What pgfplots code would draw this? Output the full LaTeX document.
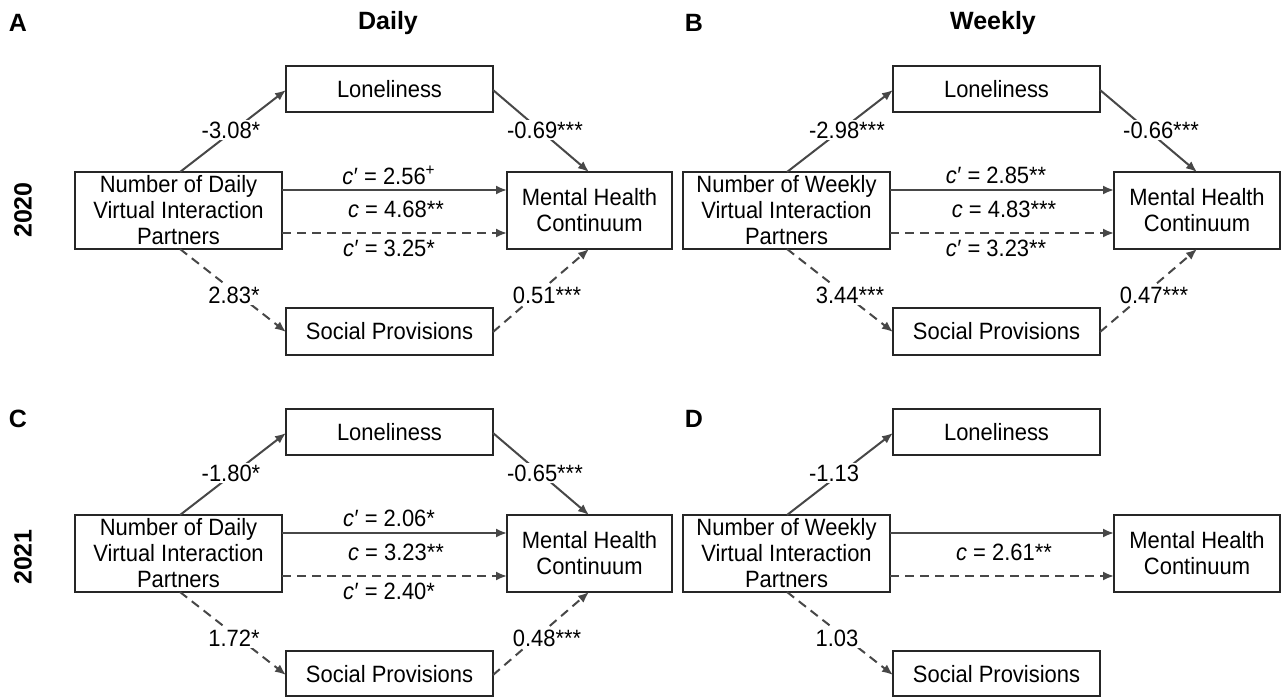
\documentclass[border=0pt]{standalone}
\usepackage{pgfplots}
\pgfplotsset{compat=1.18}
\usetikzlibrary{arrows.meta}
\usepackage{fontspec}
\setmainfont{Liberation Sans}
\newcommand{\cp}{\textit{c}\kern0.3pt′}
\begin{document}
\begin{tikzpicture}[
  box/.style={draw=black!85, line width=1pt, fill=white, mark=none, line join=miter},
  arr/.style={draw=black!72, line width=1pt, mark=none, -{Latex[length=5.5pt,width=4.5pt]}},
  dsh/.style={dash pattern=on 4.5pt off 3pt},
  lab/.style={fill=white, inner sep=0.8pt, xscale=0.93, font=\fontsize{11.8}{13}\selectfont},
  txt/.style={align=center, inner sep=0pt, xscale=0.93, font=\fontsize{11.8}{13}\selectfont},
  ttl/.style={inner sep=0pt, font=\bfseries\fontsize{12.5}{15}\selectfont},
]
\begin{axis}[
  scale only axis, width=644pt, height=348.5pt,
  xmin=0, xmax=1288, ymin=0, ymax=697,
  hide axis, clip=false,
]
% frame for bounding box
\addplot[draw=none, mark=none] coordinates {(0,0) (1288,697)};

% ---------- Panel A ----------
\addplot[box] coordinates {(286,585) (493,585) (493,631) (286,631)} -- cycle;
\addplot[box] coordinates {(75,448) (282,448) (282,525) (75,525)} -- cycle;
\addplot[box] coordinates {(507,448) (672,448) (672,525) (507,525)} -- cycle;
\addplot[box] coordinates {(286,342) (493,342) (493,389) (286,389)} -- cycle;
\addplot[arr] coordinates {(180,525) (286,607)};
\addplot[arr] coordinates {(493,607) (589,525)};
\addplot[arr] coordinates {(282,507) (507,507)};
\addplot[arr,dsh] coordinates {(282,464) (507,464)};
\addplot[arr,dsh] coordinates {(180,448) (286,365)};
\addplot[arr,dsh] coordinates {(493,365) (589,448)};

% ---------- Panel B ----------
\addplot[box] coordinates {(893,585) (1100,585) (1100,631) (893,631)} -- cycle;
\addplot[box] coordinates {(683,448) (890,448) (890,525) (683,525)} -- cycle;
\addplot[box] coordinates {(1114,448) (1280,448) (1280,525) (1114,525)} -- cycle;
\addplot[box] coordinates {(893,342) (1100,342) (1100,389) (893,389)} -- cycle;
\addplot[arr] coordinates {(787,525) (893,607)};
\addplot[arr] coordinates {(1100,607) (1197,525)};
\addplot[arr] coordinates {(890,507) (1114,507)};
\addplot[arr,dsh] coordinates {(890,464) (1114,464)};
\addplot[arr,dsh] coordinates {(787,448) (893,365)};
\addplot[arr,dsh] coordinates {(1100,365) (1197,448)};

% ---------- Panel C ----------
\addplot[box] coordinates {(286,242) (493,242) (493,288) (286,288)} -- cycle;
\addplot[box] coordinates {(75,105) (282,105) (282,182) (75,182)} -- cycle;
\addplot[box] coordinates {(507,105) (672,105) (672,182) (507,182)} -- cycle;
\addplot[box] coordinates {(286,1) (493,1) (493,46) (286,46)} -- cycle;
\addplot[arr] coordinates {(180,182) (286,264)};
\addplot[arr] coordinates {(493,264) (589,182)};
\addplot[arr] coordinates {(282,164) (507,164)};
\addplot[arr,dsh] coordinates {(282,121) (507,121)};
\addplot[arr,dsh] coordinates {(180,105) (286,22)};
\addplot[arr,dsh] coordinates {(493,22) (589,105)};

% ---------- Panel D ----------
\addplot[box] coordinates {(893,242) (1100,242) (1100,288) (893,288)} -- cycle;
\addplot[box] coordinates {(683,105) (890,105) (890,182) (683,182)} -- cycle;
\addplot[box] coordinates {(1114,105) (1280,105) (1280,182) (1114,182)} -- cycle;
\addplot[box] coordinates {(893,1) (1100,1) (1100,46) (893,46)} -- cycle;
\addplot[arr] coordinates {(787,182) (893,264)};
\addplot[arr] coordinates {(890,164) (1114,164)};
\addplot[arr,dsh] coordinates {(890,121) (1114,121)};
\addplot[arr,dsh] coordinates {(787,105) (893,22)};

% ---------- titles ----------
\node[ttl] at (axis cs:18,674) {A};
\node[ttl] at (axis cs:694,674) {B};
\node[ttl] at (axis cs:18,278) {C};
\node[ttl] at (axis cs:694,278) {D};
\node[ttl] at (axis cs:388,674) {Daily};
\node[ttl] at (axis cs:993,674) {Weekly};
\node[ttl, rotate=90] at (axis cs:23,487) {2020};
\node[ttl, rotate=90] at (axis cs:23,140) {2021};

% ---------- box texts A ----------
\node[txt] at (axis cs:389.5,608) {Loneliness};
\node[txt] at (axis cs:178.5,486.5) {Number of Daily\\Virtual Interaction\\Partners};
\node[txt] at (axis cs:589.5,486.5) {Mental Health\\Continuum};
\node[txt] at (axis cs:389.5,365.5) {Social Provisions};
% B
\node[txt] at (axis cs:996.5,608) {Loneliness};
\node[txt] at (axis cs:786.5,486.5) {Number of Weekly\\Virtual Interaction\\Partners};
\node[txt] at (axis cs:1197,486.5) {Mental Health\\Continuum};
\node[txt] at (axis cs:996.5,365.5) {Social Provisions};
% C
\node[txt] at (axis cs:389.5,265) {Loneliness};
\node[txt] at (axis cs:178.5,143.5) {Number of Daily\\Virtual Interaction\\Partners};
\node[txt] at (axis cs:589.5,143.5) {Mental Health\\Continuum};
\node[txt] at (axis cs:389.5,22.5) {Social Provisions};
% D
\node[txt] at (axis cs:996.5,265) {Loneliness};
\node[txt] at (axis cs:786.5,143.5) {Number of Weekly\\Virtual Interaction\\Partners};
\node[txt] at (axis cs:1197,143.5) {Mental Health\\Continuum};
\node[txt] at (axis cs:996.5,22.5) {Social Provisions};

% ---------- coefficient labels A ----------
\node[lab] at (axis cs:231,567) {-3.08*};
\node[lab] at (axis cs:545,567) {-0.69***};
\node[lab] at (axis cs:389,522) {\cp{} = 2.56\textsuperscript{+}};
\node[lab] at (axis cs:396,488) {\textit{c} = 4.68**};
\node[lab] at (axis cs:389,449) {\cp{} = 3.25*};
\node[lab] at (axis cs:234,402) {2.83*};
\node[lab] at (axis cs:547,402) {0.51***};
% B
\node[lab] at (axis cs:847,567) {-2.98***};
\node[lab] at (axis cs:1161,567) {-0.66***};
\node[lab] at (axis cs:996,522) {\cp{} = 2.85**};
\node[lab] at (axis cs:1004,488) {\textit{c} = 4.83***};
\node[lab] at (axis cs:996,449) {\cp{} = 3.23**};
\node[lab] at (axis cs:850,402) {3.44***};
\node[lab] at (axis cs:1154,402) {0.47***};
% C
\node[lab] at (axis cs:231,224) {-1.80*};
\node[lab] at (axis cs:545,224) {-0.65***};
\node[lab] at (axis cs:389,179) {\cp{} = 2.06*};
\node[lab] at (axis cs:396,145) {\textit{c} = 3.23**};
\node[lab] at (axis cs:389,106) {\cp{} = 2.40*};
\node[lab] at (axis cs:234,59) {1.72*};
\node[lab] at (axis cs:547,59) {0.48***};
% D
\node[lab] at (axis cs:834,224) {-1.13};
\node[lab] at (axis cs:1004,145) {\textit{c} = 2.61**};
\node[lab] at (axis cs:837,59) {1.03};
\end{axis}
\end{tikzpicture}
\end{document}
